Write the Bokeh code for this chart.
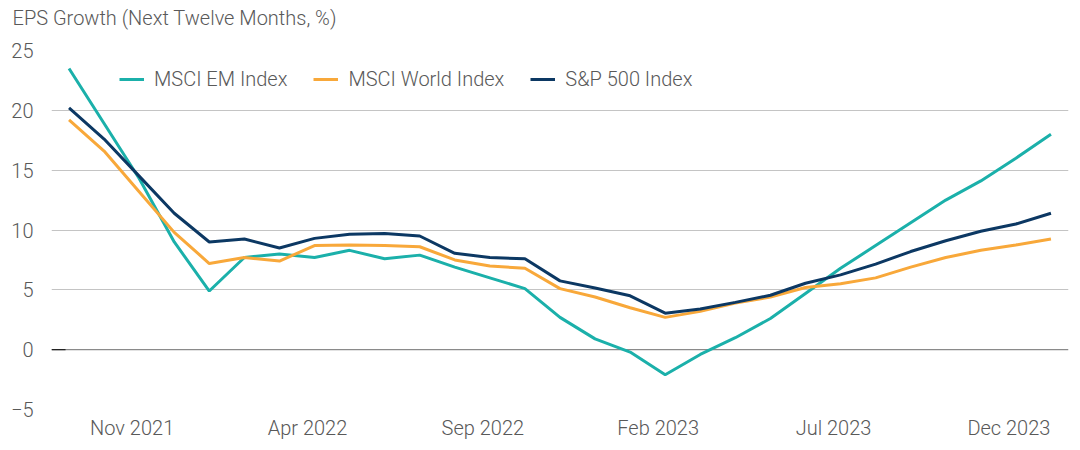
from bokeh.plotting import figure
from bokeh.models import FixedTicker, Legend, LegendItem, Title
from bokeh.embed import file_html
from bokeh.resources import INLINE

months = ["Sep 2021", "Oct 2021", "Nov 2021", "Dec 2021", "Jan 2022", "Feb 2022",
          "Mar 2022", "Apr 2022", "May 2022", "Jun 2022", "Jul 2022", "Aug 2022",
          "Sep 2022", "Oct 2022", "Nov 2022", "Dec 2022", "Jan 2023", "Feb 2023",
          "Mar 2023", "Apr 2023", "May 2023", "Jun 2023", "Jul 2023", "Aug 2023",
          "Sep 2023", "Oct 2023", "Nov 2023", "Dec 2023", "Jan 2024"]

msci_em = [23.5, 18.9, 14.3, 9.0, 4.9, 7.7, 8.0, 7.7, 8.3, 7.6, 7.9, 6.9, 6.0, 5.1,
           2.7, 0.9, -0.2, -2.1, -0.4, 1.0, 2.6, 4.7, 6.8, 8.7, 10.6, 12.5, 14.1, 16.0, 18.0]
msci_world = [19.2, 16.6, 13.2, 9.8, 7.2, 7.7, 7.4, 8.7, 8.75, 8.7, 8.6, 7.5, 7.0, 6.8,
              5.1, 4.4, 3.5, 2.7, 3.2, 3.9, 4.4, 5.2, 5.5, 6.0, 6.9, 7.7, 8.3, 8.75, 9.25]
sp500 = [20.2, 17.6, 14.5, 11.4, 9.0, 9.25, 8.5, 9.3, 9.65, 9.7, 9.5, 8.05, 7.7, 7.6,
         5.75, 5.15, 4.5, 3.05, 3.4, 3.95, 4.55, 5.55, 6.25, 7.15, 8.2, 9.1, 9.9, 10.5, 11.4]

title_text = "EPS Growth (Next Twelve Months, %)"
y_ticks = [-5, 0, 5, 10, 15, 20, 25]
label_every = 5
label_start = 2

TEXT = "#595959"
FONT = "Roboto Light"
FSIZE = "20px"

x = list(range(len(months)))

p = figure(width=1080, height=450, x_range=(-0.5, len(months) - 0.5), y_range=(-5, 25),
           output_backend="svg", toolbar_location=None,
           min_border_left=51, min_border_right=12, min_border_top=50, min_border_bottom=41)
p.outline_line_color = None
p.background_fill_color = "white"
p.border_fill_color = "white"

# spacer between frame and title (first added sits nearest the frame)
spacer = Title(text=" ", text_font=FONT, text_font_size="10px", standoff=8)
p.add_layout(spacer, "above")
main_title = Title(text=title_text, text_font=FONT, text_font_size=FSIZE,
                   text_font_style="normal", text_color=TEXT, align="left",
                   vertical_align="bottom", offset=-39, standoff=0)
p.add_layout(main_title, "above")

# axes
p.yaxis.ticker = FixedTicker(ticks=y_ticks)
p.yaxis.axis_line_color = None
p.yaxis.major_tick_line_color = None
p.yaxis.minor_tick_line_color = None
p.yaxis.major_tick_out = 0
p.yaxis.major_tick_in = 0
p.yaxis.major_label_standoff = 18
p.yaxis.major_label_text_font = FONT
p.yaxis.major_label_text_font_size = FSIZE
p.yaxis.major_label_text_color = TEXT

tick_pos = [i - 0.2 for i in range(label_start, len(months), label_every)]
p.xaxis.ticker = FixedTicker(ticks=tick_pos)
p.xaxis.major_label_overrides = {t: months[i] for t, i in zip(tick_pos, range(label_start, len(months), label_every))}
p.xaxis.axis_line_color = None
p.xaxis.major_tick_line_color = None
p.xaxis.minor_tick_line_color = None
p.xaxis.major_tick_out = 0
p.xaxis.major_tick_in = 0
p.xaxis.major_label_standoff = 6
p.xaxis.major_label_text_font = FONT
p.xaxis.major_label_text_font_size = FSIZE
p.xaxis.major_label_text_color = TEXT

p.xgrid.grid_line_color = None
p.ygrid.ticker = FixedTicker(ticks=[t for t in y_ticks if t != 0])
p.ygrid.grid_line_color = "#c4c4c4"
p.ygrid.grid_line_width = 1.2

# zero line
p.segment(x0=[-0.5], y0=[0], x1=[len(months) - 0.5], y1=[0], line_color="#8a8a8a", line_width=1.4)
p.segment(x0=[-0.5], y0=[0], x1=[-0.1], y1=[0], line_color="#222222", line_width=1.4)

r_em = p.line(x, msci_em, line_color="#1bb0aa", line_width=3)
r_w = p.line(x, msci_world, line_color="#f8a83a", line_width=3)
r_sp = p.line(x, sp500, line_color="#0c3863", line_width=3)

legend = Legend(items=[LegendItem(label="MSCI EM Index", renderers=[r_em]),
                       LegendItem(label="MSCI World Index", renderers=[r_w]),
                       LegendItem(label="S&P 500 Index", renderers=[r_sp])],
                location=(68, 318), orientation="horizontal")
legend.border_line_color = None
legend.background_fill_alpha = 0
legend.padding = 0
legend.margin = 0
legend.spacing = 26
legend.glyph_width = 25
legend.glyph_height = 22
legend.label_height = 22
legend.label_standoff = 10
legend.label_text_font = FONT
legend.label_text_font_size = FSIZE
legend.label_text_color = TEXT
p.add_layout(legend)

open("out.html", "w").write(file_html(p, INLINE))
